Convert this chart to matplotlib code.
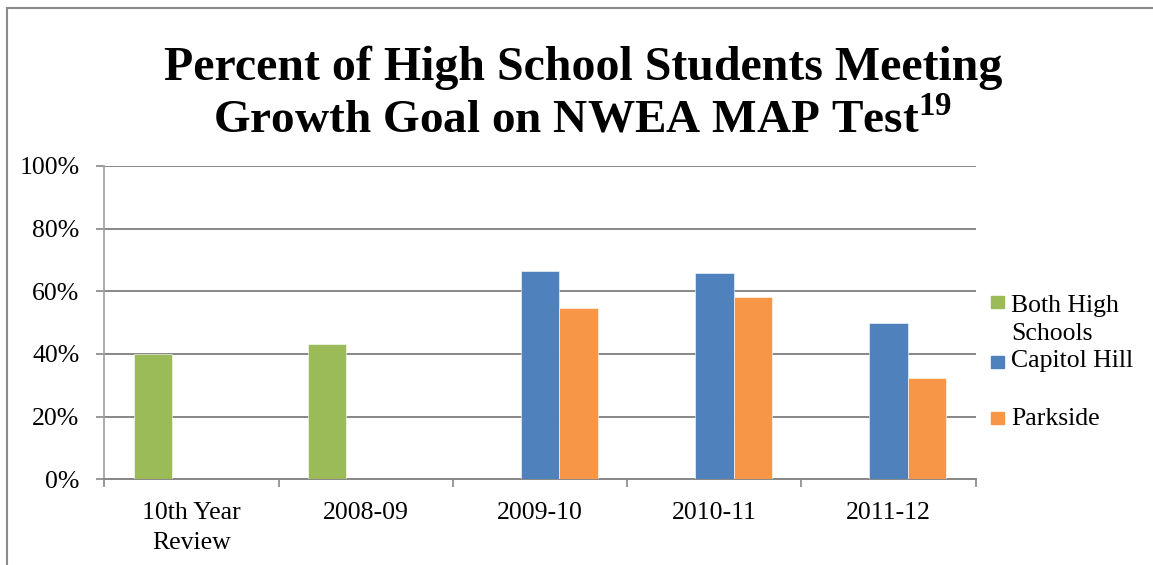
import matplotlib
matplotlib.use("Agg")
import matplotlib.pyplot as plt
from matplotlib.patches import Rectangle
from matplotlib.ticker import FixedLocator
import numpy as np

categories = ["10th Year\nReview", "2008-09", "2009-10", "2010-11", "2011-12"]
series_names = ["Both High\nSchools", "Capitol Hill", "Parkside"]
both_high = [40.0, 43.0, np.nan, np.nan, np.nan]
capitol_hill = [np.nan, np.nan, 66.6, 65.7, 49.9]
parkside = [np.nan, np.nan, 54.6, 58.0, 32.3]
y_ticks = [0, 20, 40, 60, 80, 100]
y_tick_labels = ["0%", "20%", "40%", "60%", "80%", "100%"]
colors = ["#9BBB59", "#4F81BD", "#F79646"]

plt.rcParams['font.family'] = ['Liberation Serif', 'DejaVu Serif']
plt.rcParams['mathtext.fontset'] = 'custom'
plt.rcParams['mathtext.rm'] = 'Liberation Serif'
plt.rcParams['mathtext.bf'] = 'Liberation Serif:bold'

W, H = 1153, 565
fig = plt.figure(figsize=(W / 100, H / 100), dpi=100)
ax = fig.add_axes([104.3 / W, 1 - 479.3 / H, 871.4 / W, 313.5 / H])

grid_c = "#878787"
x = np.arange(len(categories))
bw = 0.221
offsets = [-bw, 0.0, bw]
for vals, off, c in zip([both_high, capitol_hill, parkside], offsets, colors):
    ax.bar(x + off, vals, width=bw, color=c, edgecolor="white", linewidth=0.4, zorder=3)

ax.set_xlim(-0.5, len(categories) - 0.5)
ax.set_ylim(0, 100)
ax.set_yticks(y_ticks)
ax.set_yticklabels(y_tick_labels)
ax.yaxis.grid(True, color=grid_c, linewidth=1.4, zorder=1)
ax.set_axisbelow(True)

ax.set_xticks(x)
ax.set_xticklabels(categories, linespacing=1.5)
ax.xaxis.set_minor_locator(FixedLocator(np.arange(-0.5, len(categories), 1.0)))
ax.tick_params(axis='x', which='major', length=0, pad=16, labelsize=18.5, colors='black')
ax.tick_params(axis='x', which='minor', length=5.5, width=1.2, color=grid_c)
ax.tick_params(axis='y', which='major', length=5.8, width=1.2, color=grid_c, pad=12, labelsize=18.5)

for s in ['top', 'right']:
    ax.spines[s].set_visible(False)
ax.spines['left'].set_color("#a0a0a0")
ax.spines['left'].set_linewidth(1.2)
ax.spines['bottom'].set_color(grid_c)
ax.spines['bottom'].set_linewidth(1.4)

# Title
fig.text(583 / W, 1 - 80 / H, "Percent of High School Students Meeting",
         ha='center', va='baseline', fontsize=34.5, fontweight='bold')
fig.text(583 / W, 1 - 132 / H, "Growth Goal on NWEA MAP Test$^{\\mathbf{19}}$",
         ha='center', va='baseline', fontsize=34, fontweight='bold')

# Legend (manual, to mimic uneven spacing)
leg_sq_y = [302, 362, 418]
leg_base_y = [312, 367, 425]
line_gap = 28
for name, c, sy, by in zip(series_names, colors, leg_sq_y, leg_base_y):
    fig.patches.append(Rectangle((991 / W, 1 - (sy + 6) / H), 13 / W, 12 / H,
                                 transform=fig.transFigure, color=c))
    for i, line in enumerate(name.split("\n")):
        fig.text(1011 / W, 1 - (by + i * line_gap) / H, line, ha='left', va='baseline',
                 fontsize=18.5)

# Outer border
fig.patches.append(Rectangle((7 / W, -0.5), 2.0, 1.5 - 8 / H, transform=fig.transFigure,
                             fill=False, edgecolor="#8a8a8a", linewidth=1.5))

fig.savefig("out.png", dpi=100)
